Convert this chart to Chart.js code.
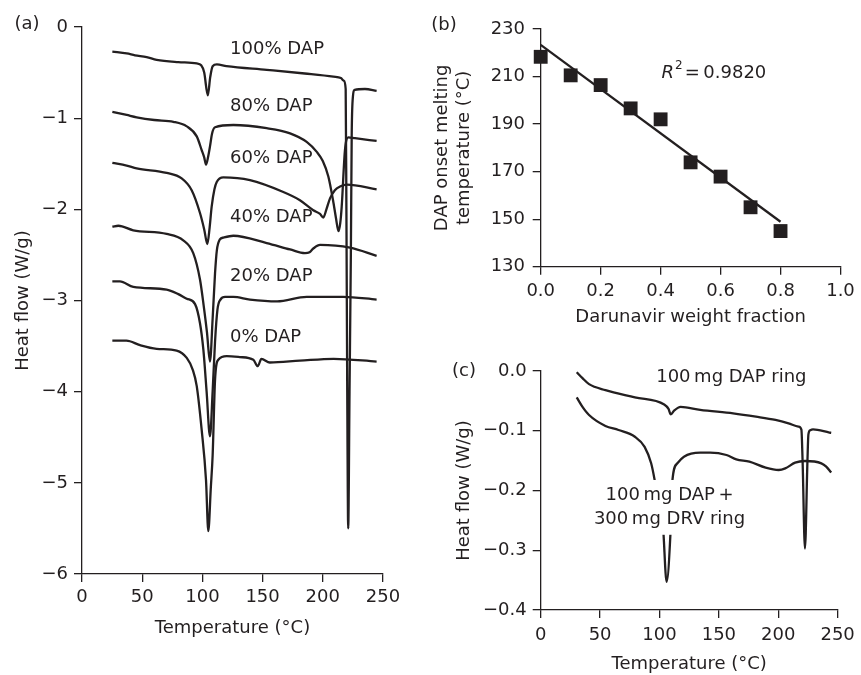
<!DOCTYPE html>
<html>
<head>
<meta charset="utf-8">
<script src="https://cdn.jsdelivr.net/npm/chart.js@4.4.0/dist/chart.umd.min.js"></script>
<style>
  body { margin: 0; background: #fff; width: 861px; height: 675px; overflow: hidden; position: relative; }
  canvas { position: absolute; }
  #dscA { left: 0; top: 0; }
  #fitB { left: 420px; top: 0; }
  #ringC { left: 420px; top: 340px; }
</style>
</head>
<body>
<canvas id="dscA" width="420" height="675"></canvas>
<canvas id="fitB" width="441" height="340"></canvas>
<canvas id="ringC" width="441" height="335"></canvas>
<script>
// ---- Panel (a) DSC curves: temperature (°C) and heat flow (W/g)
const dap100T  = [25.2, 37.1, 44, 53.7, 62, 80, 95.3, 99, 101.5, 104.5, 106.5, 108.5, 112, 120, 153.4, 185, 208.8, 215, 217.5, 219, 219.6, 220.3, 221.1, 222.2, 223.3, 224, 224.8, 226.5, 235, 244.7];
const dap100HF = [-0.27, -0.29, -0.31, -0.33, -0.36, -0.385, -0.40, -0.42, -0.5, -0.75, -0.55, -0.43, -0.41, -0.43, -0.47, -0.51, -0.545, -0.56, -0.59, -0.68, -2.0, -4.0, -5.5, -4.0, -2.5, -1.2, -0.8, -0.69, -0.68, -0.70];

const dap80T  = [25.2, 37.1, 45.4, 60, 75.9, 87, 95.3, 99.4, 101.5, 103, 104.8, 106.3, 108, 110.5, 125.7, 153.4, 172.8, 186.6, 195, 200, 204.6, 208.5, 211, 213, 214.5, 215.7, 218.4, 221.2, 226.7, 244.7];
const dap80HF = [-0.93, -0.965, -0.99, -1.02, -1.04, -1.09, -1.20, -1.35, -1.43, -1.51, -1.42, -1.31, -1.17, -1.10, -1.075, -1.11, -1.166, -1.26, -1.37, -1.47, -1.64, -1.90, -2.10, -2.24, -2.15, -1.97, -1.35, -1.21, -1.22, -1.25];

const dap60T  = [25.2, 37.1, 45.4, 70.3, 82.8, 91.1, 98, 101.5, 104.1, 106, 107.7, 110, 111.9, 117.4, 139.5, 167.2, 181, 192.1, 197.7, 200.4, 203, 206, 210, 214.3, 220, 244.7];
const dap60HF = [-1.49, -1.52, -1.55, -1.60, -1.66, -1.79, -2.04, -2.22, -2.38, -2.2, -1.97, -1.78, -1.70, -1.65, -1.68, -1.81, -1.90, -2.01, -2.05, -2.09, -2.0, -1.88, -1.79, -1.75, -1.73, -1.78];

const dap40T  = [25.2, 30.2, 42.6, 70.3, 84.1, 92.4, 98, 101, 103.8, 106.3, 108.5, 110.5, 112, 114.5, 117.4, 125.7, 153.4, 172.8, 185.2, 189, 192.1, 197.7, 222.6, 244.7];
const dap40HF = [-2.19, -2.18, -2.23, -2.27, -2.34, -2.48, -2.77, -3.05, -3.35, -3.67, -3.2, -2.7, -2.45, -2.33, -2.31, -2.29, -2.37, -2.44, -2.48, -2.47, -2.43, -2.39, -2.42, -2.51];

const dap20T  = [25.2, 31.5, 42.6, 70.3, 80, 87, 93.9, 98, 100.8, 103.5, 106.3, 108.5, 110.5, 112.5, 115, 118.8, 125.7, 139.5, 162, 186.6, 217, 244.7];
const dap20HF = [-2.79, -2.79, -2.85, -2.88, -2.93, -2.98, -3.04, -3.25, -3.54, -4.0, -4.49, -4.0, -3.45, -3.1, -2.99, -2.96, -2.96, -2.99, -3.01, -2.96, -2.96, -2.99];

const dap0T  = [25.2, 36.9, 48.2, 62, 78.6, 87, 92, 95.3, 99.4, 103, 104.9, 107, 108.5, 110.5, 113.2, 120.2, 131, 142.3, 146, 149, 156, 181, 209, 244.7];
const dap0HF = [-3.44, -3.44, -3.49, -3.53, -3.55, -3.63, -3.76, -3.94, -4.42, -4.97, -5.53, -5.05, -4.7, -3.87, -3.65, -3.61, -3.62, -3.65, -3.72, -3.64, -3.68, -3.66, -3.64, -3.67];

const curveNamesA = ['100% DAP', '80% DAP', '60% DAP', '40% DAP', '20% DAP', '0% DAP'];
const curveLabelYA = [-0.25, -0.87, -1.44, -2.09, -2.74, -3.40];

// ---- Panel (b) onset melting temperature vs darunavir fraction
const drvFraction = [0, 0.1, 0.2, 0.3, 0.4, 0.5, 0.6, 0.7, 0.8];
const onsetTemp   = [218.3, 210.5, 206.4, 196.6, 192, 173.9, 167.9, 155, 145];
const fitFraction = [0, 0.8];
const fitTemp     = [223.3, 148.9];

// ---- Panel (c) DSC of rings
const ringT  = [30.3, 35.2, 40.7, 54.5, 79.3, 104, 107.5, 109.6, 112.5, 117.8, 134.3, 162, 181.2, 197.7, 208.7, 217, 219.5, 220.5, 222.5, 224.6, 225.4, 227, 229.3, 243.1, 244.6];
const ringHF = [-0.002, -0.012, -0.022, -0.032, -0.044, -0.056, -0.063, -0.0725, -0.066, -0.060, -0.065, -0.071, -0.0765, -0.082, -0.0876, -0.093, -0.098, -0.15, -0.297, -0.15, -0.106, -0.099, -0.0977, -0.103, -0.1035];

const mixT  = [30.3, 35.2, 40.7, 54.5, 65.5, 79.3, 87.5, 93, 95.8, 99.5, 102.9, 106, 109.6, 111, 115.1, 120.6, 134.3, 142.6, 156.4, 164.7, 175.7, 189.4, 200.4, 205.9, 214.2, 222.5, 236.3, 240.4, 244.6];
const mixHF = [-0.044, -0.060, -0.0737, -0.092, -0.0987, -0.11, -0.127, -0.1545, -0.181, -0.225, -0.258, -0.353, -0.258, -0.181, -0.1545, -0.1434, -0.1367, -0.1367, -0.1406, -0.1478, -0.1518, -0.1618, -0.1657, -0.163, -0.1534, -0.1506, -0.1545, -0.16, -0.170];

// Styling
const INK = '#231f20';
const FONT_FAMILY = '"DejaVu Sans", sans-serif';
Chart.defaults.font.family = FONT_FAMILY;
Chart.defaults.font.size = 18;
Chart.defaults.color = INK;

const zip = (xs, ys) => xs.map((x, i) => ({x: x, y: ys[i]}));
const minus = v => (v < 0 ? '\u2212' + Math.abs(v) : String(v));

function curve(xs, ys) {
    return {
        data: zip(xs, ys),
        borderColor: INK,
        borderWidth: 2.3,
        pointRadius: 0,
        cubicInterpolationMode: 'monotone',
        fill: false
    };
}

// Axis helper - fixed size boxes so the plot area lands where the figure has it
function axis(opts) {
    return {
        type: 'linear',
        min: opts.min,
        max: opts.max,
        border: {display: true, color: INK, width: 1.3},
        grid: {display: true, drawOnChartArea: false, drawTicks: true, tickLength: 8, color: INK, lineWidth: 1.3},
        ticks: {stepSize: opts.step, padding: opts.pad, color: INK, callback: opts.fmt, autoSkip: false, maxRotation: 0},
        title: {display: true, text: opts.title, color: INK, padding: opts.titlePad, font: {size: 18, lineHeight: 1.2}},
        afterFit: opts.fit
    };
}

// Text labels drawn at data coordinates
function textLabels(items) {
    return {
        id: 'textLabels',
        afterDatasetsDraw(chart) {
            const {ctx, scales} = chart;
            ctx.save();
            ctx.font = '18px ' + FONT_FAMILY;
            ctx.textBaseline = 'middle';
            items.forEach(it => {
                const px = scales.x.getPixelForValue(it.x);
                const py = scales.y.getPixelForValue(it.y);
                ctx.textAlign = it.align || 'left';
                if (it.box) {
                    const w = ctx.measureText(it.text).width;
                    const left = it.align === 'center' ? px - w / 2 : px;
                    ctx.fillStyle = '#fff';
                    ctx.fillRect(left - 3, py - 15, w + 6, 30);
                }
                ctx.fillStyle = INK;
                ctx.fillText(it.text, px, py);
            });
            ctx.restore();
        }
    };
}

function panelTag(tag, x, y) {
    return {
        id: 'panelTag',
        afterDraw(chart) {
            const ctx = chart.ctx;
            ctx.save();
            ctx.font = '18px ' + FONT_FAMILY;
            ctx.fillStyle = INK;
            ctx.textAlign = 'center';
            ctx.textBaseline = 'middle';
            ctx.fillText(tag, x, y);
            ctx.restore();
        }
    };
}

const baseOptions = {
    responsive: false,
    animation: false,
    events: [],
    plugins: {legend: {display: false}, tooltip: {enabled: false}}
};

// ---- Panel (a)
const dscSeries = [
    [dap100T, dap100HF], [dap80T, dap80HF], [dap60T, dap60HF],
    [dap40T, dap40HF], [dap20T, dap20HF], [dap0T, dap0HF]
];

new Chart(document.getElementById('dscA'), {
    type: 'line',
    data: {datasets: dscSeries.map(s => curve(s[0], s[1]))},
    options: Object.assign({}, baseOptions, {
        layout: {padding: {top: 27, right: 37, bottom: 0, left: 0}},
        scales: {
            x: axis({min: 0, max: 250, step: 50, pad: 4.5, fmt: v => v, title: 'Temperature (\u00b0C)',
                     titlePad: {top: 0, bottom: 35.7}, fit: s => { s.height = 101; }}),
            y: axis({min: -6, max: 0, step: 1, pad: 6, fmt: minus, title: 'Heat flow (W/g)',
                     titlePad: {top: 12.7, bottom: 0}, fit: s => { s.width = 82; }})
        }
    }),
    plugins: [
        textLabels(curveNamesA.map((t, i) => ({text: t, x: 123, y: curveLabelYA[i]}))),
        panelTag('(a)', 27, 24)
    ]
});

// ---- Panel (b)
new Chart(document.getElementById('fitB'), {
    type: 'scatter',
    data: {
        datasets: [
            {
                data: zip(drvFraction, onsetTemp),
                pointStyle: 'rect',
                pointRadius: 9.8,
                backgroundColor: INK,
                borderColor: INK,
                borderWidth: 0,
                clip: false,
                order: 0
            },
            {
                type: 'line',
                data: zip(fitFraction, fitTemp),
                borderColor: INK,
                borderWidth: 2.3,
                pointRadius: 0,
                order: 1
            }
        ]
    },
    options: Object.assign({}, baseOptions, {
        layout: {padding: {top: 29, right: 20, bottom: 0, left: 0}},
        scales: {
            x: axis({min: 0, max: 1, step: 0.2, pad: 6.2, fmt: v => v.toFixed(1), title: 'Darunavir weight fraction',
                     titlePad: {top: 0, bottom: 12.2}, fit: s => { s.height = 73.3; }}),
            y: axis({min: 130, max: 230, step: 20, pad: 7.7, fmt: v => v, title: ['DAP onset melting', 'temperature (\u00b0C)'],
                     titlePad: {top: 11.7, bottom: 0}, fit: s => { s.width = 120.7; }})
        }
    }),
    plugins: [
        {
            id: 'rSquared',
            afterDatasetsDraw(chart) {
                const {ctx, scales} = chart;
                let px = scales.x.getPixelForValue(0.403);
                const py = scales.y.getPixelForValue(211.5);
                ctx.save();
                ctx.fillStyle = INK;
                ctx.textAlign = 'left';
                ctx.textBaseline = 'middle';
                ctx.font = 'italic 18px ' + FONT_FAMILY;
                ctx.fillText('R', px, py);
                px += ctx.measureText('R').width + 1;
                ctx.font = '12px ' + FONT_FAMILY;
                ctx.fillText('2', px, py - 7);
                px += ctx.measureText('2').width + 2;
                ctx.font = '18px ' + FONT_FAMILY;
                ctx.fillText('=\u20090.9820', px, py);
                ctx.restore();
            }
        },
        panelTag('(b)', 24, 25)
    ]
});

// ---- Panel (c)
new Chart(document.getElementById('ringC'), {
    type: 'line',
    data: {datasets: [curve(ringT, ringHF), curve(mixT, mixHF)]},
    options: Object.assign({}, baseOptions, {
        layout: {padding: {top: 31, right: 17.7, bottom: 0, left: 0}},
        scales: {
            x: axis({min: 0, max: 250, step: 50, pad: 6.2, fmt: v => v, title: 'Temperature (\u00b0C)',
                     titlePad: {top: 0, bottom: 0.2}, fit: s => { s.height = 65; }}),
            y: axis({min: -0.4, max: 0, step: 0.1, pad: 6, fmt: v => minus(Number(v.toFixed(1))).replace(/^(\u2212?)(\d)$/, '$1$2.0'),
                     title: 'Heat flow (W/g)', titlePad: {top: 33.7, bottom: 0}, fit: s => { s.width = 120.7; }})
        }
    }),
    plugins: [
        textLabels([
            {text: '100\u2009mg DAP ring', x: 160.5, y: -0.010, align: 'center'},
            {text: '100\u2009mg DAP\u2009+', x: 108.5, y: -0.2075, align: 'center', box: true},
            {text: '300\u2009mg DRV ring', x: 108.5, y: -0.249, align: 'center', box: true}
        ]),
        panelTag('(c)', 44, 31)
    ]
});
</script>
</body>
</html>
